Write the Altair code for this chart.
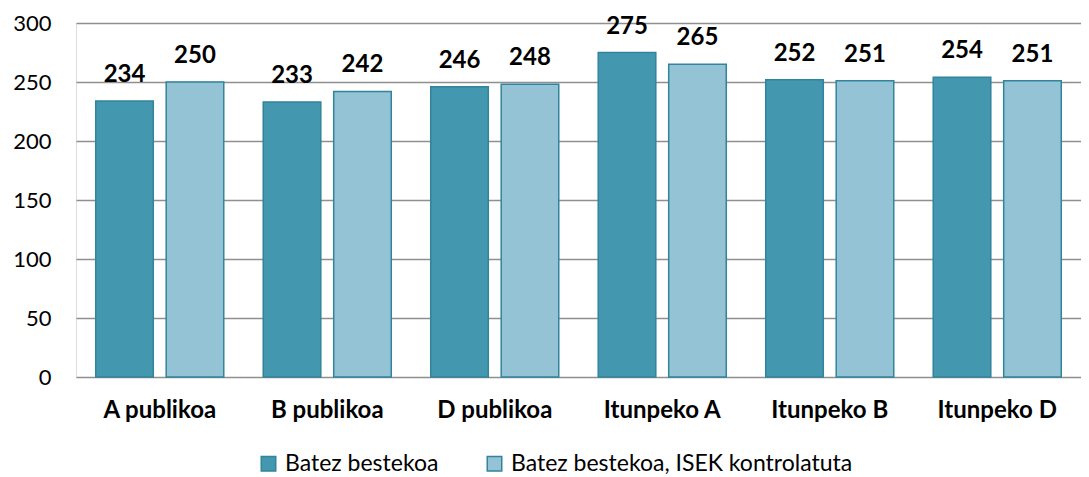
import altair as alt
import pandas as pd

categories = ["A publikoa", "B publikoa", "D publikoa", "Itunpeko A", "Itunpeko B", "Itunpeko D"]
series = ["Batez bestekoa", "Batez bestekoa, ISEK kontrolatuta"]
values_mean = [234, 233, 246, 275, 252, 254]
values_isek = [250, 242, 248, 265, 251, 251]
y_ticks = [0, 50, 100, 150, 200, 250, 300]
colors = ["#4398AF", "#93C3D5"]

rows = []
for c, a, b in zip(categories, values_mean, values_isek):
    rows.append({"cat": c, "series": series[0], "value": a})
    rows.append({"cat": c, "series": series[1], "value": b})
df = pd.DataFrame(rows)

FONT = "Lato"

x = alt.X("cat:N", sort=categories,
          scale=alt.Scale(paddingInner=0, paddingOuter=0),
          axis=alt.Axis(title=None, labelAngle=0, domain=False, ticks=False,
                        labelPadding=21, labelFont=FONT, labelFontSize=24,
                        labelFontWeight="bold", labelColor="#000000"))
xo = alt.XOffset("series:N", sort=series,
                 scale=alt.Scale(paddingInner=0.183, paddingOuter=0.28))
y = alt.Y("value:Q", scale=alt.Scale(domain=[0, 300], nice=False),
          axis=alt.Axis(title=None, values=y_ticks, grid=True, gridColor="#8F8F8F",
                        gridWidth=1.6, domain=False, ticks=False, labelPadding=25,
                        labelFont=FONT, labelFontSize=22, labelColor="#000000"))

bars = alt.Chart(df).mark_bar(stroke="#31849B", strokeWidth=1.5).encode(
    x=x, xOffset=xo, y=y,
    color=alt.Color("series:N", sort=series,
                    scale=alt.Scale(domain=series, range=colors),
                    legend=alt.Legend(title=None, orient="none", legendX=181, legendY=429,
                                      direction="horizontal", symbolType="square",
                                      symbolSize=210, symbolStrokeColor="#31849B",
                                      symbolStrokeWidth=1.5, labelFont=FONT,
                                      labelFontSize=23, labelColor="#000000",
                                      labelLimit=600, columnPadding=44, labelOffset=5)),
)

labels = alt.Chart(df).mark_text(dy=-14, baseline="bottom", font=FONT, fontSize=24,
                                 fontWeight="bold", color="#000000").encode(
    x=x, xOffset=xo, y=y, text=alt.Text("value:Q"))

chart = alt.layer(bars, labels).properties(
    width=1005, height=354,
    autosize=alt.AutoSizeParams(type="none"),
    padding={"left": 68, "top": 15, "right": 0, "bottom": 98},
).configure_view(fill="#E9F0F4", stroke=None).configure(background="#FFFFFF")

chart.save("out.html", embed_options={"renderer": "svg", "actions": False})
